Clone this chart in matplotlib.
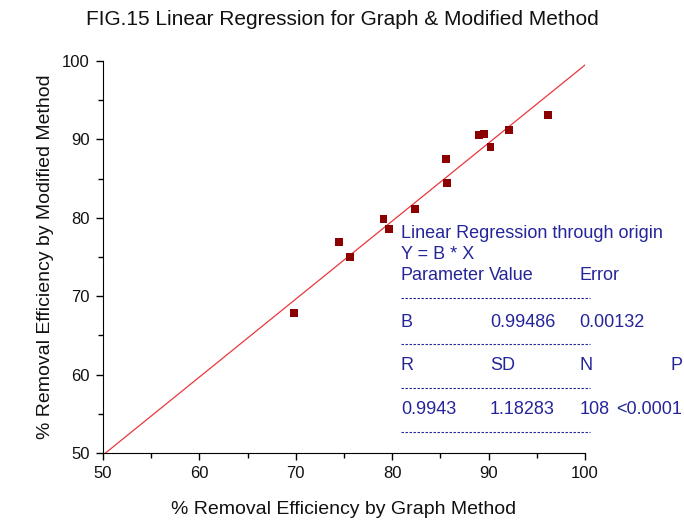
import matplotlib
matplotlib.use("Agg")
import matplotlib.pyplot as plt
from matplotlib.ticker import MultipleLocator

plt.rcParams["font.family"] = ["Liberation Sans", "DejaVu Sans"]

# removal efficiency (%) for the two methods
graph_method = [69.8, 74.5, 75.6, 79.1, 79.7, 82.4, 85.6, 85.7, 89.0, 89.5, 90.2, 92.1, 96.2]
modified_method = [67.9, 76.9, 75.0, 79.8, 78.6, 81.1, 87.5, 84.4, 90.6, 90.7, 89.0, 91.2, 93.1]

# fit through origin
slope = 0.99486
slope_err = 0.00132
r_value = 0.9943
sd_value = 1.18283
n_value = 108
p_value = "<0.0001"

fit_x = [50, 100]
fit_y = [slope * v for v in fit_x]

fig = plt.figure(figsize=(6.84, 5.2), dpi=100)
ax = fig.add_axes([0.1506, 0.1288, 0.7047, 0.7539])

ax.plot(fit_x, fit_y, color="#e8383d", lw=0.9, zorder=2)
ax.scatter(graph_method, modified_method, marker="s", s=32, color="#8b0000",
           edgecolors="none", zorder=3)

ax.set_xlim(50, 100)
ax.set_ylim(50, 100)
ax.xaxis.set_major_locator(MultipleLocator(10))
ax.xaxis.set_minor_locator(MultipleLocator(5))
ax.yaxis.set_major_locator(MultipleLocator(10))
ax.yaxis.set_minor_locator(MultipleLocator(5))
ax.tick_params(which="major", direction="out", length=5, width=1, labelsize=12,
               pad=4.5, labelcolor="#111111")
ax.tick_params(which="minor", direction="out", length=3.5, width=1)
for side in ("top", "right"):
    ax.spines[side].set_visible(False)

ax.set_xlabel("% Removal Efficiency by Graph Method", fontsize=14, labelpad=14,
              color="#111111")
ax.set_ylabel("% Removal Efficiency by Modified Method", fontsize=14, labelpad=6,
              color="#111111")
fig.text(0.5, 0.962, "FIG.15 Linear Regression for Graph & Modified Method",
         ha="center", va="center", fontsize=15, color="#111111")

# regression summary table
blue = "#25259a"
c1, c2, c3, c4 = 80.9, 90.15, 99.4, 110.1
rows_y = [78.06, 75.26, 72.58, 69.77, 66.71, 63.9, 61.1, 58.3, 55.5, 52.7]
kw = dict(color=blue, fontsize=13, va="center", clip_on=False)

ax.text(c1, rows_y[0], "Linear Regression through origin", **kw)
ax.text(c1, rows_y[1], "Y = B * X", **kw)
ax.text(c1, rows_y[2], "Parameter", **kw)
ax.text(c2 - 0.1, rows_y[2], "Value", **kw)
ax.text(c3, rows_y[2], "Error", **kw)
ax.text(c1, rows_y[4], "B", **kw)
ax.text(c2, rows_y[4], f"{slope:.5f}", **kw)
ax.text(c3, rows_y[4], f"{slope_err:.5f}", **kw)
ax.text(c1, rows_y[6], "R", **kw)
ax.text(c2, rows_y[6], "SD", **kw)
ax.text(c3, rows_y[6], "N", **kw)
ax.text(c4, rows_y[6], "P", ha="right", **kw)
ax.text(c1, rows_y[8], f"{r_value}", **kw)
ax.text(c2, rows_y[8], f"{sd_value}", **kw)
ax.text(c3, rows_y[8], f"{n_value}", **kw)
ax.text(c4, rows_y[8], p_value, ha="right", **kw)

for y in rows_y[3::2]:
    ax.plot([c1, 100.5], [y, y], color=blue, lw=0.8, ls=(0, (2.2, 1.4)),
            clip_on=False)

fig.savefig("out.png", dpi=100)
